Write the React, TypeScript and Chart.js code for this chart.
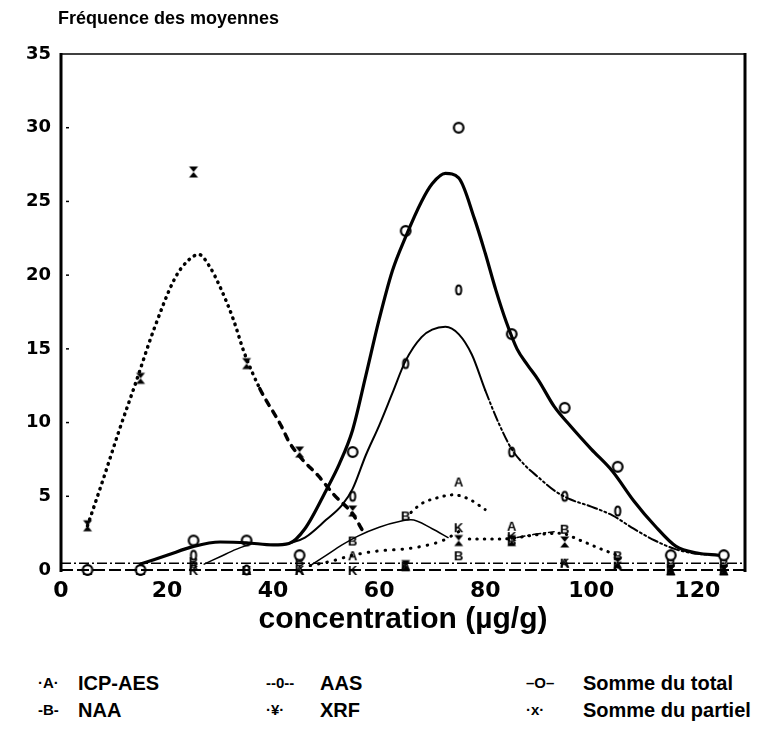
import React, { useEffect, useRef } from "react";
import { Chart, registerables } from "chart.js";

Chart.register(...registerables);

// ---- data (concentration bins in µg/g, frequencies) ----
const bins = [5, 15, 25, 35, 45, 55, 65, 75, 85, 95, 105, 115, 125];
const icpAes = [0, 0, 0.3, 0, 0, 1, 0.3, 6, 3, 0.5, 0.3, 0, 0];
const aas = [0, 0, 1, 0, 1, 5, 14, 19, 8, 5, 4, 1, 1];
const sommeTotal = [0, 0, 2, 2, 1, 8, 23, 30, 16, 11, 7, 1, 1];
const naa = [0, 0, 0.6, 0, 0.6, 2, 3.7, 1, 2, 2.8, 1, 0.5, 0.5];
const xrf = [0, 0, 0, 0, 0, 0, 0.3, 2.9, 2.3, 0.5, 0.3, 0, 0];
const sommePartiel = [3, 13, 27, 14, 8, 4, 0.3, 2, 2, 1.9, 0.5, 0, 0];

// smoothed curves
const totalCurveX = [15, 20, 25, 30, 35, 40, 43, 46, 50, 52.5, 55, 57.5, 60, 62.5, 65, 68, 70, 72.5, 75, 78, 80, 82, 84, 86, 88, 90, 93, 96, 100, 104, 108, 112, 116, 120, 124];
const totalCurveY = [0.4, 1.0, 1.6, 1.9, 1.85, 1.7, 1.8, 2.8, 5.4, 7.2, 9.5, 13.2, 17.0, 20.3, 22.6, 25.0, 26.2, 26.9, 26.6, 23.8, 21.5, 19.0, 16.8, 15.0, 13.9, 12.9, 11.1, 9.8, 8.2, 6.7, 4.7, 3.0, 1.6, 1.15, 1.0];

const aasCurveX = [43, 46, 50, 53, 55, 57.5, 60, 62.5, 65, 68, 70, 72.5, 75, 77.5, 80, 82.5, 85, 87.5, 90, 93, 96, 100, 104, 108, 112, 116, 120, 124];
const aasCurveY = [1.8, 2.2, 3.4, 4.4, 5.5, 7.8, 9.8, 12.0, 14.2, 15.8, 16.3, 16.5, 16.0, 14.6, 12.2, 10.0, 8.2, 7.1, 6.3, 5.4, 4.8, 4.3, 3.7, 2.8, 2.0, 1.4, 1.1, 1.0];

const partielCurveX = [5, 8, 11, 14, 17.5, 21.5, 24, 26, 28, 30, 32.5, 34.5, 37.5, 41.5, 43, 45.5, 48.5, 51.5, 55, 57];
const partielCurveY = [3, 6.2, 9.5, 12.6, 16.3, 19.8, 21.0, 21.4, 20.6, 19.2, 17.0, 14.8, 12.3, 9.8, 8.7, 7.5, 6.4, 5.1, 3.8, 2.6];

const icpCurveX = [66, 68, 71, 74, 77, 80];
const icpCurveY = [3.9, 4.5, 4.9, 5.1, 4.8, 4.1];

const xrfCurveX = [47, 51, 55, 60, 64, 68, 72, 75];
const xrfCurveY = [0.3, 0.6, 1.0, 1.3, 1.4, 1.6, 2.0, 2.6];
const xrfCurve2X = [77, 80, 83, 86, 90, 94, 98, 102, 105];
const xrfCurve2Y = [2.1, 2.1, 2.1, 2.2, 2.4, 2.5, 2.0, 1.4, 1.0];

const naaCurveAX = [27, 30, 33, 36];
const naaCurveAY = [0.4, 0.9, 1.4, 1.8];
const naaCurveBX = [47, 50, 53, 56, 60, 64, 66, 70, 73];
const naaCurveBY = [0.3, 1.0, 1.7, 2.3, 2.9, 3.3, 3.4, 2.8, 2.2];
const naaCurveCX = [86, 89, 93];
const naaCurveCY = [2.2, 2.4, 2.6];

const baseX = [0, 129];
const baseZero = [0, 0];
const baseHalf = [0.45, 0.45];

const xTicks = [0, 20, 40, 60, 80, 100, 120];
const yTicks = [0, 5, 10, 15, 20, 25, 30, 35];

const legendRow1 = [
  { mark: "·A·", label: "ICP-AES" },
  { mark: "--0--", label: "AAS" },
  { mark: "–O–", label: "Somme du total" },
];
const legendRow2 = [
  { mark: "-B-", label: "NAA" },
  { mark: "·¥·", label: "XRF" },
  { mark: "·x·", label: "Somme du partiel" },
];

const FONT = "'Liberation Sans', Arial, sans-serif";
const WIDE = "'DejaVu Sans', sans-serif";

function pts(xs: number[], ys: number[]) {
  return xs.map((x, i) => ({ x, y: ys[i] }));
}

function glyph(kind: string): HTMLCanvasElement {
  const c = document.createElement("canvas");
  c.width = 16;
  c.height = 18;
  const g = c.getContext("2d")!;
  g.translate(8, 9);
  g.strokeStyle = "#000";
  g.fillStyle = "#000";
  if (kind === "ring") {
    g.lineWidth = 2.2;
    g.beginPath();
    g.arc(0, 0, 4.8, 0, Math.PI * 2);
    g.fillStyle = "#fff";
    g.fill();
    g.stroke();
  } else if (kind === "zero") {
    g.lineWidth = 2;
    g.beginPath();
    g.ellipse(0, 0, 2.6, 4.6, 0, 0, Math.PI * 2);
    g.fillStyle = "#fff";
    g.fill();
    g.stroke();
  } else if (kind === "hour") {
    g.beginPath();
    g.moveTo(-4.5, -5.5);
    g.lineTo(4.5, -5.5);
    g.lineTo(0, 0);
    g.closePath();
    g.fill();
    g.beginPath();
    g.moveTo(-4.5, 5.5);
    g.lineTo(4.5, 5.5);
    g.lineTo(0, 0);
    g.closePath();
    g.fill();
  } else {
    g.font = "bold 13px " + FONT;
    g.textAlign = "center";
    g.textBaseline = "middle";
    g.fillText(kind, 0, 1);
  }
  return c;
}

const framePlugin = {
  id: "frame",
  afterDatasetsDraw(chart: any) {
    const { ctx, chartArea, scales } = chart;
    const { left, right, top, bottom } = chartArea;
    ctx.save();
    ctx.strokeStyle = "#000";
    ctx.lineWidth = 3;
    ctx.beginPath();
    ctx.moveTo(left, top - 1);
    ctx.lineTo(left, bottom + 2);
    ctx.stroke();
    ctx.beginPath();
    ctx.moveTo(right, top - 1);
    ctx.lineTo(right, bottom + 2);
    ctx.stroke();
    ctx.lineWidth = 1.5;
    ctx.beginPath();
    ctx.moveTo(left, top);
    ctx.lineTo(right, top);
    ctx.stroke();
    ctx.lineWidth = 1.5;
    yTicks.forEach((v) => {
      if (v === 0 || v === 35) return;
      const y = scales.y.getPixelForValue(v);
      ctx.beginPath();
      ctx.moveTo(left + 5, y);
      ctx.lineTo(left + 8, y);
      ctx.stroke();
    });
    ctx.restore();
  },
};

export default function App() {
  const ref = useRef<HTMLCanvasElement | null>(null);

  useEffect(() => {
    if (!ref.current) return;
    const dotted = [0.5, 6];
    const lineBase = {
      type: "line" as const,
      pointRadius: 0,
      borderColor: "#000",
      fill: false,
      cubicInterpolationMode: "monotone" as const,
      borderCapStyle: "round" as const,
      clip: false as any,
    };
    const markerBase = (data: number[], kind: string, label: string) => ({
      type: "scatter" as const,
      label,
      data: pts(bins, data),
      pointStyle: glyph(kind),
      pointRadius: 6,
      showLine: false,
      clip: false as any,
    });

    const chart = new Chart(ref.current, {
      type: "line",
      data: {
        datasets: [
          { ...lineBase, label: "base0", data: pts(baseX, baseZero), borderWidth: 2, borderDash: [12, 4], borderCapStyle: "butt" },
          { ...lineBase, label: "base05", data: pts(baseX, baseHalf), borderWidth: 1.5, borderDash: [10, 3, 2, 3], borderCapStyle: "butt" },
          { ...lineBase, label: "total", data: pts(totalCurveX, totalCurveY), borderWidth: 3.2 },
          {
            ...lineBase,
            label: "aas",
            data: pts(aasCurveX, aasCurveY),
            borderWidth: 2,
            segment: { borderDash: (c: any) => (c.p0.parsed.x >= 80 ? [10, 3, 2, 3, 2, 3] : undefined) },
          },
          {
            ...lineBase,
            label: "partiel",
            data: pts(partielCurveX, partielCurveY),
            borderWidth: 3.5,
            borderDash: dotted,
            segment: { borderDash: (c: any) => (c.p0.parsed.x >= 37 ? [6, 7] : dotted) },
          },
          { ...lineBase, label: "icpc", data: pts(icpCurveX, icpCurveY), borderWidth: 3, borderDash: [0.5, 7] },
          { ...lineBase, label: "xrfc", data: pts(xrfCurveX, xrfCurveY), borderWidth: 3, borderDash: [0.5, 8] },
          { ...lineBase, label: "xrfc2", data: pts(xrfCurve2X, xrfCurve2Y), borderWidth: 3, borderDash: [0.5, 7] },
          { ...lineBase, label: "naaA", data: pts(naaCurveAX, naaCurveAY), borderWidth: 1.5 },
          { ...lineBase, label: "naaB", data: pts(naaCurveBX, naaCurveBY), borderWidth: 1.5 },
          { ...lineBase, label: "naaC", data: pts(naaCurveCX, naaCurveCY), borderWidth: 1.5, borderDash: [8, 3, 2, 3] },
          markerBase(sommeTotal, "ring", "Somme du total"),
          markerBase(aas, "zero", "AAS"),
          markerBase(icpAes, "A", "ICP-AES"),
          markerBase(naa, "B", "NAA"),
          markerBase(xrf, "K", "XRF"),
          markerBase(sommePartiel, "hour", "Somme du partiel"),
        ] as any,
      },
      options: {
        animation: false,
        responsive: false,
        layout: { padding: { top: 54, left: 0, right: 25, bottom: 0 } },
        plugins: { legend: { display: false }, title: { display: false }, tooltip: { enabled: false } },
        scales: {
          x: {
            type: "linear",
            min: 0,
            max: 129,
            grid: { display: false, drawTicks: false },
            border: { display: false },
            afterBuildTicks: (s: any) => {
              s.ticks = xTicks.map((v) => ({ value: v }));
            },
            afterFit: (s: any) => {
              s.height = 80;
            },
            ticks: {
              color: "#000",
              padding: 8,
              maxRotation: 0,
              font: { family: WIDE, size: 22, weight: "bold" },
            },
            title: {
              display: true,
              text: "concentration (µg/g)",
              color: "#000",
              font: { family: FONT, size: 30, weight: "bold" },
              padding: { top: 0, bottom: 12 },
            },
          },
          y: {
            type: "linear",
            min: 0,
            max: 35,
            grid: { display: false, drawTicks: false },
            border: { display: false },
            afterBuildTicks: (s: any) => {
              s.ticks = yTicks.map((v) => ({ value: v }));
            },
            afterFit: (s: any) => {
              s.width = 61;
            },
            ticks: {
              color: "#000",
              padding: 10,
              font: { family: WIDE, size: 18, weight: "bold" },
            },
          },
        },
      },
      plugins: [framePlugin],
    });
    return () => chart.destroy();
  }, []);

  const legendRowStyle = (top: number): React.CSSProperties => ({
    position: "absolute",
    top,
    left: 0,
    width: 770,
    height: 24,
    fontFamily: FONT,
    fontWeight: "bold",
    fontSize: 20,
    lineHeight: "24px",
    color: "#000",
  });
  const markLefts = [38, 266, 526];
  const textLefts = [78, 320, 583];

  return (
    <div style={{ position: "fixed", left: 0, top: 0, width: 770, height: 732, background: "#fff" }}>
      <canvas ref={ref} width={770} height={650} style={{ position: "absolute", left: 0, top: 0 }} />
      <div
        style={{
          position: "absolute",
          left: 58,
          top: 6,
          fontFamily: FONT,
          fontWeight: "bold",
          fontSize: 18,
          lineHeight: "24px",
          color: "#000",
          whiteSpace: "nowrap",
        }}
      >
        Fréquence des moyennes
      </div>
      {[legendRow1, legendRow2].map((row, r) => (
        <div key={r} style={legendRowStyle(r === 0 ? 671 : 698)}>
          {row.map((it, i) => (
            <React.Fragment key={i}>
              <span style={{ position: "absolute", left: markLefts[i], top: 0, fontSize: 15 }}>{it.mark}</span>
              <span style={{ position: "absolute", left: textLefts[i], top: 0, whiteSpace: "nowrap" }}>{it.label}</span>
            </React.Fragment>
          ))}
        </div>
      ))}
    </div>
  );
}
